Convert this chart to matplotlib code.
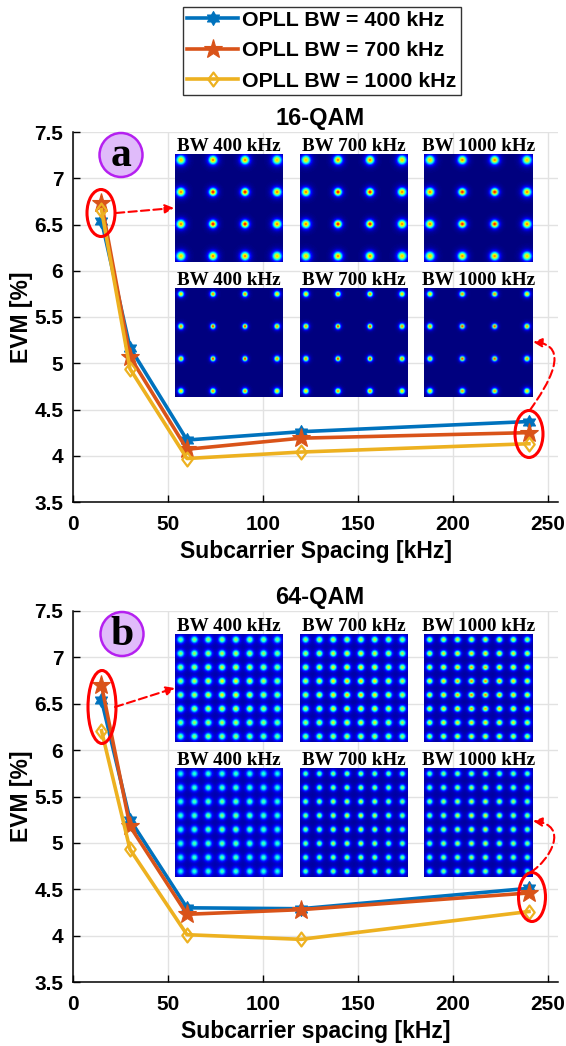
import numpy as np
import matplotlib
matplotlib.use('Agg')
import matplotlib.pyplot as plt
from matplotlib.patches import Ellipse, FancyArrowPatch
from matplotlib.path import Path

W, H = 566, 1046

spacing = [15, 30, 60, 120, 240]
evm_16_400 = [6.54, 5.17, 4.17, 4.26, 4.37]
evm_16_700 = [6.73, 5.07, 4.07, 4.19, 4.25]
evm_16_1000 = [6.66, 4.94, 3.97, 4.04, 4.13]
evm_64_400 = [6.54, 5.25, 4.30, 4.29, 4.51]
evm_64_700 = [6.70, 5.18, 4.23, 4.28, 4.46]
evm_64_1000 = [6.21, 4.93, 4.01, 3.96, 4.26]

series_labels = ['OPLL BW = 400 kHz', 'OPLL BW = 700 kHz', 'OPLL BW = 1000 kHz']
inset_labels = ['BW 400 kHz', 'BW 700 kHz', 'BW 1000 kHz']
y_ticks = [3.5, 4, 4.5, 5, 5.5, 6, 6.5, 7, 7.5]
y_ticklabels = ['3.5', '4', '4.5', '5', '5.5', '6', '6.5', '7', '7.5']
x_ticks = [0, 50, 100, 150, 200, 250]

# spot width and peak level for each constellation panel, top row then bottom row
spot_16 = [[0.066, 0.065, 0.065], [0.042, 0.042, 0.042]]
peak_16 = [[1.0, 1.0, 1.0], [1.0, 1.0, 1.0]]
spot_64 = [[0.15, 0.14, 0.125], [0.155, 0.125, 0.125]]
peak_64 = [[0.66, 0.72, 0.80], [0.52, 0.66, 0.68]]

colors = ['#0072BD', '#D95319', '#EDB120']
plt.rcParams['font.family'] = ['Liberation Sans', 'DejaVu Sans']

hexagram = Path.unit_regular_star(6, innerCircle=0.577)
diamond = Path([(0, 0.5), (0.375, 0), (0, -0.5), (-0.375, 0), (0, 0.5)], closed=True)

fig = plt.figure(figsize=(W / 100, H / 100), dpi=100)


def px_axes(x0, y0, x1, y1):
    return fig.add_axes([x0 / W, 1 - y1 / H, (x1 - x0) / W, (y1 - y0) / H])


def fx(x):
    return x / W


def fy(y):
    return 1 - y / H


def constellation(n, width, peak):
    # density picture of an n x n QAM grid, each spot a core and a faint halo
    pad = 0.17 if n == 4 else 0.37
    c = np.linspace(-pad, n - 1 + pad, 108)
    xx, yy = np.meshgrid(c, c)
    z = np.zeros_like(xx)
    cen = (n - 1) / 2
    for i in range(n):
        for j in range(n):
            r = np.hypot(i - cen, j - cen) / (cen * np.sqrt(2))
            s = width * (1 + (0.35 if n == 4 else 0.1) * r)
            a = peak * (1 - 0.3 * r)
            d2 = (xx - i) ** 2 + (yy - j) ** 2
            z += a * (0.85 * np.exp(-d2 / (2 * s ** 2)) + 0.15 * np.exp(-d2 / (2 * (1.8 * s) ** 2)))
    if n == 8:
        z += 0.03
    return z


def draw_panel(rect, title, xlabel, evms):
    ax = px_axes(*rect)
    ax.plot(spacing, evms[0], color=colors[0], lw=2.6, marker=hexagram, ms=10,
            mew=0.8, label=series_labels[0])
    ax.plot(spacing, evms[1], color=colors[1], lw=2.6, marker='*', ms=14,
            mew=0.8, label=series_labels[1])
    ax.plot(spacing, evms[2], color=colors[2], lw=2.6, marker=diamond, ms=10,
            mew=1.6, mfc='none', label=series_labels[2])
    ax.set_xlim(0, 255.3)
    ax.set_ylim(3.5, 7.5)
    ax.set_xticks(x_ticks)
    ax.set_yticks(y_ticks)
    ax.set_yticklabels(y_ticklabels)
    ax.grid(True, color='#e2e2e2', lw=1)
    ax.set_axisbelow(True)
    ax.spines['top'].set_visible(False)
    ax.spines['right'].set_visible(False)
    ax.spines['left'].set_linewidth(1.1)
    ax.spines['bottom'].set_linewidth(1.1)
    ax.tick_params(direction='in', length=5, width=1, labelsize=15)
    ax.tick_params(axis='x', pad=9)
    ax.tick_params(axis='y', pad=7)
    for t in ax.get_xticklabels() + ax.get_yticklabels():
        t.set_fontweight('bold')
    ax.set_title(title, fontsize=17, fontweight='bold', pad=5, x=0.509)
    ax.set_xlabel(xlabel, fontsize=16.5, fontweight='bold', labelpad=5)
    ax.set_ylabel('EVM [%]', fontsize=16.5, fontweight='bold', labelpad=1)
    return ax


top = draw_panel((73, 132, 558, 502), '16-QAM', 'Subcarrier Spacing [kHz]',
                 [evm_16_400, evm_16_700, evm_16_1000])
bot = draw_panel((73, 611, 558, 982), '64-QAM', 'Subcarrier spacing [kHz]',
                 [evm_64_400, evm_64_700, evm_64_1000])

handles, labels = top.get_legend_handles_labels()
fig.legend(handles, labels, loc='upper left', bbox_to_anchor=(fx(183), fy(7)),
           prop={'family': 'Liberation Sans', 'weight': 'bold', 'size': 15.4},
           frameon=True, fancybox=False, edgecolor='#333333', framealpha=1,
           handlelength=2.4, handletextpad=0.2, labelspacing=0.54,
           borderpad=0.18, borderaxespad=0)

col_x = [(175, 283), (300, 408), (424, 533)]
for n, spots, peaks, rows in [(4, spot_16, peak_16, [(154, 262), (288, 397)]),
                              (8, spot_64, peak_64, [(634, 742), (768, 877)])]:
    for r, (y0, y1) in enumerate(rows):
        for c, (x0, x1) in enumerate(col_x):
            iax = px_axes(x0, y0, x1, y1)
            iax.imshow(constellation(n, spots[r][c], peaks[r][c]), cmap='jet', vmin=0, vmax=1,
                       aspect='auto', origin='lower', interpolation='bilinear')
            iax.set_xticks([])
            iax.set_yticks([])
            for s in iax.spines.values():
                s.set_visible(False)
            fig.text(fx((x0 + x1) / 2), fy(y0 + 1), inset_labels[c], ha='center', va='bottom',
                     family='Liberation Serif', fontweight='bold', fontsize=13.8)

# overlay axes in pixel coordinates for the callouts
ov = fig.add_axes([0, 0, 1, 1], facecolor='none')
ov.set_xlim(0, W)
ov.set_ylim(H, 0)
ov.axis('off')

for cx, cy, w, h in [(101, 213, 28, 47), (529, 434, 28, 47),
                     (102, 707, 28, 73), (532, 897, 27, 49)]:
    ov.add_patch(Ellipse((cx, cy), w, h, fc='none', ec='red', lw=2.2))

for cx, cy, letter in [(121, 155, 'a'), (122, 634, 'b')]:
    ov.add_patch(Ellipse((cx, cy), 43, 44, fc='#e0bbfa', ec='#b520f0', lw=1.8))
    ov.text(cx, cy + 1, letter, ha='center', va='center', family='Liberation Serif',
            fontweight='bold', fontsize=30)

arrow = dict(arrowstyle='-|>', color='red', lw=1.5, ls=(0, (4, 2)), mutation_scale=13,
             shrinkA=0, shrinkB=0)
ov.annotate('', xy=(174, 208), xytext=(116, 213), arrowprops=arrow)
ov.annotate('', xy=(175, 688), xytext=(115, 707), arrowprops=arrow)

curve_codes = [Path.MOVETO, Path.CURVE4, Path.CURVE4, Path.CURVE4]
for pts in [[(530, 410), (548, 385), (572, 345), (533, 342)],
            [(531, 872), (550, 860), (570, 825), (533, 821)]]:
    ov.add_patch(FancyArrowPatch(path=Path(pts, curve_codes), transform=ov.transData, **arrow))

fig.savefig('out.png', dpi=100)
